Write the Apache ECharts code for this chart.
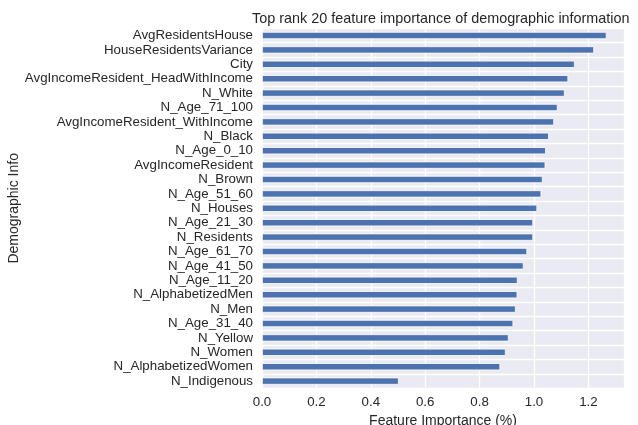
<!DOCTYPE html>
<html><head><meta charset="utf-8">
<script src="https://cdn.jsdelivr.net/npm/echarts@6/dist/echarts.min.js"></script>
<style>html,body{margin:0;padding:0;background:#fff}#c{width:638px;height:425px}</style>
</head><body><div id="c"></div>
<script>
const categories = ["AvgResidentsHouse","HouseResidentsVariance","City","AvgIncomeResident_HeadWithIncome","N_White","N_Age_71_100","AvgIncomeResident_WithIncome","N_Black","N_Age_0_10","AvgIncomeResident","N_Brown","N_Age_51_60","N_Houses","N_Age_21_30","N_Residents","N_Age_61_70","N_Age_41_50","N_Age_11_20","N_AlphabetizedMen","N_Men","N_Age_31_40","N_Yellow","N_Women","N_AlphabetizedWomen","N_Indigenous"];
const importance = [1.267,1.221,1.150,1.126,1.113,1.087,1.074,1.055,1.044,1.042,1.032,1.027,1.012,0.997,0.997,0.975,0.962,0.940,0.939,0.933,0.924,0.907,0.896,0.876,0.503];
const xTicks = [0.0,0.2,0.4,0.6,0.8,1.0,1.2];

const font = "Liberation Sans, Arial, sans-serif";
const chart = echarts.init(document.getElementById('c'), null, {renderer:'canvas'});
chart.setOption({
  animation:false,
  title:{text:"Top rank 20 feature importance of demographic information", left:247, top:7,
    textStyle:{fontFamily:font, fontSize:14.4, fontWeight:'normal', color:'#262626'}},
  grid:{left:262, top:28.3, width:362, height:360, backgroundColor:'#EAEAF2', show:true, borderWidth:0,
    containLabel:false, outerBoundsMode:'none'},
  xAxis:{type:'value', min:0, max:1.331, interval:0.2,
    axisLine:{show:false}, axisTick:{show:false},
    splitLine:{show:true, lineStyle:{color:'#fff', width:1.3}},
    axisLabel:{fontFamily:font, fontSize:13.3, color:'#262626', margin:8,
      customValues: xTicks, formatter:v=>v.toFixed(1)},
    name:"Feature Importance (%)", nameLocation:'middle', nameGap:26,
    nameTextStyle:{fontFamily:font, fontSize:14, color:'#262626'}},
  yAxis:{type:'category', data:categories, inverse:true,
    axisLine:{show:false}, axisTick:{show:false},
    splitLine:{show:true, interval:0, lineStyle:{color:'#fff', width:1.3}},
    axisLabel:{fontFamily:font, fontSize:13.3, color:'#262626', margin:9, interval:0},
    name:"Demographic Info", nameLocation:'middle', nameGap:241, nameRotate:90, nameMoveOverlap:false,
    nameTextStyle:{fontFamily:font, fontSize:14, color:'#262626'}},
  series:[{type:'bar', data:importance, barWidth:'50%',
    itemStyle:{color:'#4C72B0', borderColor:'#fff', borderWidth:0.8}}]
});
</script></body></html>
